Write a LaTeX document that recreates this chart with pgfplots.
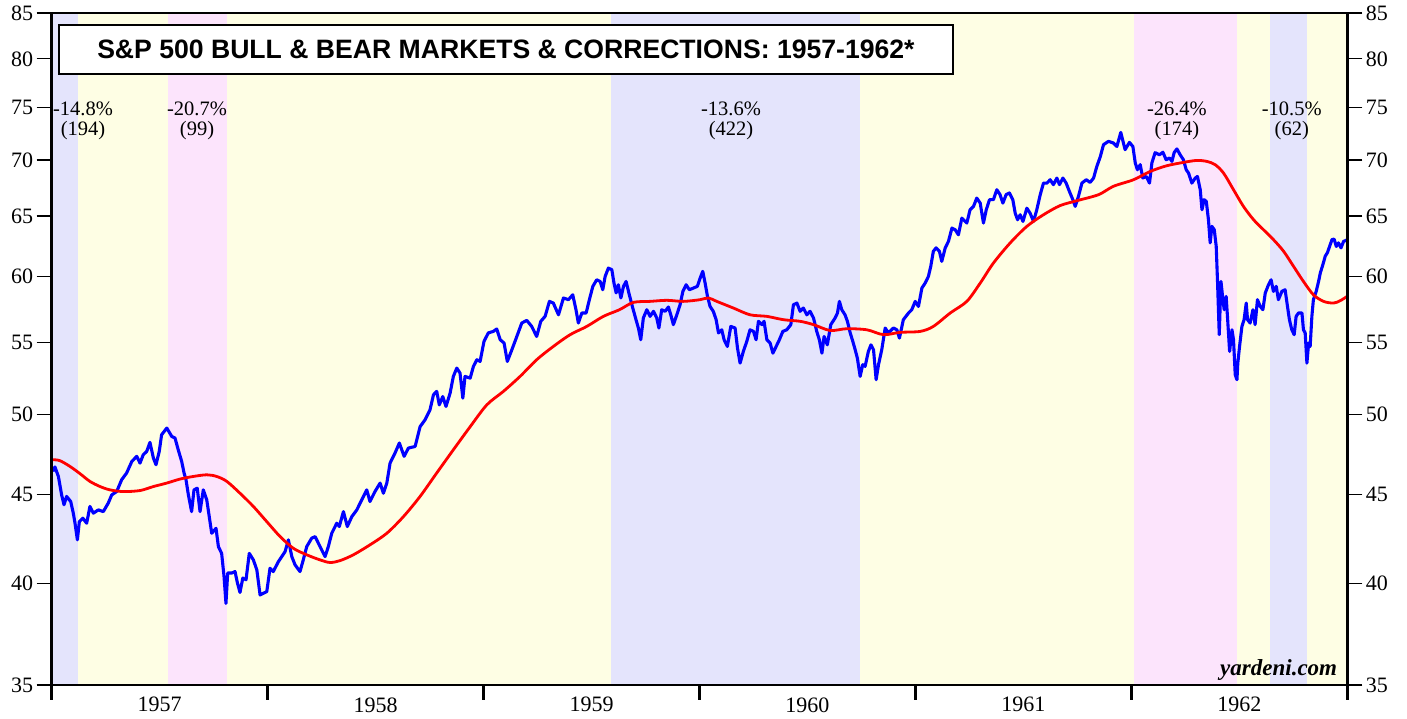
\documentclass[border=0pt]{standalone}
\usepackage{pgfplots}
\pgfplotsset{compat=1.18}
\usepackage{fontspec}
\setmainfont{Liberation Serif}
\newfontfamily\titlefont{Liberation Sans}
\definecolor{shblue}{RGB}{228,228,252}
\definecolor{shpink}{RGB}{252,228,252}
\definecolor{shyellow}{RGB}{254,254,228}
\begin{document}
\begin{tikzpicture}
\begin{axis}[
  at={(51.7pt,34pt)}, anchor=south west,
  width=1295.6pt, height=672pt, scale only axis,
  xmin=1957, xmax=1963, ymode=log, ymin=35, ymax=85,
  ytick={35,40,45,50,55,60,65,70,75,80,85},
  yticklabels={35,40,45,50,55,60,65,70,75,80,85},
  tick align=outside,
  major tick length=15pt,
  ticklabel style={font=\fontsize{22}{22}\selectfont},
  xticklabel style={yshift=6pt},
  y tick style={line width=1.3pt, black},
  axis line style={line width=2.8pt},
  axis on top,
  xtick={1957,1958,1959,1960,1961,1962,1963},
  x tick label as interval,
  xticklabels={1957,1958,1959,1960,1961,1962},
  x tick style={line width=2.8pt, black},
  xtick pos=bottom, ytick pos=left, yticklabel pos=left,
  minor tick num=0,
]
% shaded periods
\addplot[fill=shblue, draw=none] coordinates {(1957.000,35) (1957.000,85) (1957.122,85) (1957.122,35)} -- cycle;
\addplot[fill=shyellow, draw=none] coordinates {(1957.122,35) (1957.122,85) (1957.539,85) (1957.539,35)} -- cycle;
\addplot[fill=shpink, draw=none] coordinates {(1957.539,35) (1957.539,85) (1957.812,85) (1957.812,35)} -- cycle;
\addplot[fill=shyellow, draw=none] coordinates {(1957.812,35) (1957.812,85) (1959.591,85) (1959.591,35)} -- cycle;
\addplot[fill=shblue, draw=none] coordinates {(1959.591,35) (1959.591,85) (1960.744,85) (1960.744,35)} -- cycle;
\addplot[fill=shyellow, draw=none] coordinates {(1960.744,35) (1960.744,85) (1962.013,85) (1962.013,35)} -- cycle;
\addplot[fill=shpink, draw=none] coordinates {(1962.013,35) (1962.013,85) (1962.491,85) (1962.491,35)} -- cycle;
\addplot[fill=shyellow, draw=none] coordinates {(1962.491,35) (1962.491,85) (1962.643,85) (1962.643,35)} -- cycle;
\addplot[fill=shblue, draw=none] coordinates {(1962.643,35) (1962.643,85) (1962.814,85) (1962.814,35)} -- cycle;
\addplot[fill=shyellow, draw=none] coordinates {(1962.814,35) (1962.814,85) (1963.000,85) (1963.000,35)} -- cycle;

% S&P 500 (blue)
\addplot[blue, line width=3.1pt, line join=round] table {
1957.005 46.40
1957.015 46.67
1957.031 46.09
1957.046 44.98
1957.057 44.40
1957.069 44.89
1957.088 44.59
1957.100 43.91
1957.108 43.33
1957.119 42.39
1957.128 43.42
1957.144 43.62
1957.162 43.33
1957.177 44.30
1957.193 43.91
1957.216 44.10
1957.239 44.00
1957.262 44.50
1957.278 44.98
1957.301 45.18
1957.324 45.89
1957.347 46.30
1957.371 47.01
1957.394 47.33
1957.409 46.91
1957.424 47.43
1957.440 47.64
1957.455 48.21
1957.471 47.22
1957.483 46.81
1957.498 47.64
1957.509 48.70
1957.533 49.13
1957.556 48.59
1957.571 48.49
1957.586 47.74
1957.602 47.01
1957.613 46.30
1957.622 45.89
1957.633 44.98
1957.648 44.00
1957.659 45.28
1957.674 45.38
1957.687 44.00
1957.702 45.28
1957.718 44.69
1957.725 44.10
1957.741 42.76
1957.761 43.04
1957.772 42.01
1957.787 41.64
1957.798 40.40
1957.807 38.98
1957.815 40.57
1957.834 40.57
1957.849 40.65
1957.860 40.05
1957.872 39.55
1957.885 40.30
1957.900 40.21
1957.915 41.64
1957.934 41.28
1957.950 40.74
1957.965 39.42
1957.996 39.59
1958.011 40.83
1958.026 40.65
1958.050 41.19
1958.081 41.74
1958.096 42.39
1958.112 41.46
1958.127 41.01
1958.150 40.65
1958.165 41.28
1958.181 42.01
1958.204 42.48
1958.220 42.57
1958.235 42.20
1958.266 41.46
1958.281 42.01
1958.297 42.76
1958.320 43.33
1958.332 43.14
1958.351 44.00
1958.369 43.14
1958.390 43.71
1958.413 44.10
1958.436 44.69
1958.459 45.28
1958.474 44.59
1958.497 45.18
1958.521 45.69
1958.536 45.08
1958.552 45.69
1958.567 46.91
1958.590 47.54
1958.610 48.17
1958.632 47.33
1958.652 47.85
1958.683 47.95
1958.706 49.22
1958.729 49.67
1958.752 50.33
1958.768 51.34
1958.783 51.57
1958.795 50.66
1958.811 51.22
1958.826 50.55
1958.845 51.45
1958.860 52.60
1958.876 53.18
1958.891 52.83
1958.904 51.11
1958.914 52.60
1958.938 52.48
1958.953 53.30
1958.969 53.77
1958.984 53.65
1959.002 55.09
1959.022 55.71
1959.045 55.82
1959.061 56.00
1959.077 55.21
1959.095 54.97
1959.110 53.65
1959.131 54.48
1959.154 55.45
1959.177 56.44
1959.200 56.64
1959.223 56.19
1959.246 55.45
1959.265 56.57
1959.285 56.94
1959.305 58.08
1959.323 57.95
1959.347 57.06
1959.370 58.34
1959.393 58.21
1959.413 58.59
1959.428 57.44
1959.439 56.44
1959.455 57.19
1959.475 57.19
1959.490 58.21
1959.506 59.24
1959.524 59.76
1959.540 59.63
1959.552 58.98
1959.563 60.02
1959.578 60.69
1959.594 60.56
1959.604 59.50
1959.614 58.73
1959.624 59.37
1959.636 58.34
1959.648 59.24
1959.660 59.63
1959.675 58.59
1959.691 57.57
1959.706 56.69
1959.717 56.07
1959.728 55.21
1959.740 56.82
1959.756 57.44
1959.771 56.94
1959.787 57.32
1959.802 56.82
1959.812 56.07
1959.825 57.44
1959.841 57.32
1959.856 57.65
1959.867 57.06
1959.879 56.32
1959.895 57.06
1959.910 57.82
1959.923 58.85
1959.938 59.37
1959.953 58.98
1959.972 59.11
1959.990 59.24
1960.003 59.89
1960.015 60.43
1960.026 59.50
1960.037 58.46
1960.049 57.69
1960.064 57.32
1960.077 56.69
1960.088 55.71
1960.103 55.94
1960.114 55.21
1960.129 54.72
1960.145 56.19
1960.165 56.07
1960.176 54.60
1960.188 53.53
1960.203 54.36
1960.219 55.09
1960.234 55.94
1960.250 55.82
1960.262 55.21
1960.273 56.57
1960.289 56.32
1960.299 56.57
1960.312 55.21
1960.327 54.97
1960.340 54.24
1960.355 54.72
1960.370 55.21
1960.386 55.82
1960.404 55.94
1960.423 56.32
1960.435 57.82
1960.451 57.95
1960.466 57.32
1960.481 57.57
1960.497 57.06
1960.512 57.32
1960.528 56.82
1960.543 55.82
1960.555 55.21
1960.567 54.24
1960.577 55.45
1960.592 54.84
1960.608 56.32
1960.628 56.82
1960.639 57.19
1960.648 58.08
1960.659 57.44
1960.674 57.06
1960.685 56.57
1960.698 55.71
1960.710 55.09
1960.721 54.48
1960.731 53.89
1960.744 52.60
1960.756 53.42
1960.767 53.30
1960.782 54.36
1960.794 54.84
1960.806 54.48
1960.818 52.37
1960.829 53.42
1960.844 54.48
1960.860 56.07
1960.875 55.71
1960.898 56.07
1960.914 55.94
1960.926 55.33
1960.944 56.69
1960.968 57.19
1960.983 57.44
1960.999 58.08
1961.014 57.69
1961.030 59.11
1961.045 59.50
1961.060 60.02
1961.071 60.83
1961.083 62.05
1961.096 62.33
1961.111 62.05
1961.122 61.23
1961.138 62.33
1961.153 62.87
1961.169 63.98
1961.184 63.84
1961.199 63.42
1961.215 64.83
1961.238 64.41
1961.253 65.55
1961.269 65.84
1961.284 66.57
1961.300 66.13
1961.315 64.41
1961.328 65.55
1961.343 66.43
1961.361 66.43
1961.377 67.31
1961.392 66.87
1961.405 66.13
1961.420 66.87
1961.435 67.02
1961.451 66.43
1961.462 65.26
1961.473 64.69
1961.485 65.12
1961.498 64.55
1961.516 65.69
1961.531 65.26
1961.547 64.55
1961.562 65.55
1961.578 66.87
1961.593 67.90
1961.609 67.90
1961.624 68.20
1961.639 67.76
1961.655 68.35
1961.667 67.76
1961.683 68.35
1961.698 67.90
1961.713 67.16
1961.729 66.43
1961.740 65.84
1961.755 66.72
1961.771 67.90
1961.791 68.20
1961.809 67.96
1961.825 68.35
1961.840 69.41
1961.856 70.30
1961.871 71.43
1961.894 71.75
1961.917 71.59
1961.933 71.27
1961.951 72.60
1961.971 70.96
1961.991 71.65
1962.007 71.27
1962.018 69.73
1962.028 69.11
1962.041 69.57
1962.053 68.35
1962.069 68.50
1962.084 67.90
1962.095 69.73
1962.110 70.68
1962.130 70.49
1962.146 70.72
1962.161 70.03
1962.177 70.18
1962.188 69.87
1962.198 70.68
1962.211 71.03
1962.226 70.49
1962.241 70.03
1962.254 69.11
1962.265 68.80
1962.280 67.90
1962.296 68.35
1962.306 68.50
1962.319 67.31
1962.327 65.55
1962.337 66.43
1962.347 66.28
1962.357 64.69
1962.365 62.74
1962.373 64.13
1962.384 63.84
1962.393 62.45
1962.399 59.63
1962.407 55.58
1962.415 59.63
1962.424 58.21
1962.430 57.44
1962.439 58.46
1962.445 56.94
1962.455 54.36
1962.466 55.94
1962.473 55.21
1962.481 52.72
1962.489 52.37
1962.493 53.53
1962.501 54.72
1962.512 56.19
1962.522 56.69
1962.532 57.95
1962.538 56.69
1962.550 56.44
1962.563 57.44
1962.573 56.32
1962.584 58.21
1962.597 57.69
1962.609 57.44
1962.620 58.72
1962.635 59.37
1962.647 59.76
1962.658 58.85
1962.671 59.24
1962.681 58.21
1962.697 58.85
1962.712 58.98
1962.723 57.69
1962.732 56.69
1962.743 55.94
1962.754 55.58
1962.763 56.94
1962.774 57.19
1962.790 57.19
1962.797 55.94
1962.805 55.71
1962.813 53.53
1962.821 54.97
1962.828 54.72
1962.836 56.94
1962.843 58.21
1962.856 58.85
1962.867 59.63
1962.875 60.30
1962.887 60.97
1962.898 61.66
1962.908 61.94
1962.918 62.45
1962.929 63.01
1962.939 63.06
1962.949 62.45
1962.959 62.74
1962.971 62.33
1962.983 62.87
1962.995 62.95
1962.999 63.01
};

% 200-day moving average (red)
\addplot[red, line width=2.8pt, smooth] table {
1957.005 47.12
1957.038 47.06
1957.085 46.70
1957.131 46.26
1957.177 45.79
1957.224 45.48
1957.270 45.28
1957.332 45.18
1957.409 45.24
1957.471 45.48
1957.533 45.69
1957.594 45.93
1957.656 46.09
1957.718 46.19
1957.764 46.09
1957.811 45.79
1957.872 45.08
1957.934 44.30
1957.996 43.42
1958.058 42.57
1958.119 41.92
1958.181 41.56
1958.243 41.28
1958.289 41.14
1958.335 41.24
1958.397 41.56
1958.474 42.11
1958.552 42.76
1958.629 43.71
1958.706 44.89
1958.783 46.30
1958.860 47.74
1958.938 49.22
1959.015 50.66
1959.092 51.57
1959.169 52.60
1959.246 53.77
1959.323 54.72
1959.401 55.58
1959.478 56.19
1959.555 56.94
1959.629 57.44
1959.694 58.00
1959.771 58.08
1959.849 58.16
1959.925 58.08
1960.003 58.21
1960.041 58.34
1960.080 58.08
1960.157 57.57
1960.234 57.06
1960.312 56.94
1960.389 56.69
1960.466 56.57
1960.528 56.32
1960.605 55.89
1960.682 56.02
1960.775 55.94
1960.852 55.58
1960.929 55.75
1961.022 55.82
1961.083 56.19
1961.161 57.19
1961.238 58.08
1961.300 59.50
1961.361 61.09
1961.439 62.74
1961.516 64.13
1961.593 65.12
1961.670 65.91
1961.748 66.34
1961.848 66.87
1961.917 67.61
1962.010 68.20
1962.087 68.95
1962.164 69.47
1962.241 69.78
1962.303 69.96
1962.350 69.87
1962.388 69.57
1962.427 68.80
1962.473 67.31
1962.519 65.84
1962.566 64.69
1962.612 63.84
1962.658 63.01
1962.705 62.05
1962.751 60.83
1962.797 59.63
1962.843 58.59
1962.890 58.08
1962.936 57.95
1962.967 58.13
1962.999 58.46
};

% annotations
\node[align=center, font=\fontsize{20.5}{20}\selectfont] at (axis cs:1957.145,73.7) {-14.8\%\\(194)};
\node[align=center, font=\fontsize{20.5}{20}\selectfont] at (axis cs:1957.673,73.7) {-20.7\%\\(99)};
\node[align=center, font=\fontsize{20.5}{20}\selectfont] at (axis cs:1960.146,73.7) {-13.6\%\\(422)};
\node[align=center, font=\fontsize{20.5}{20}\selectfont] at (axis cs:1962.211,73.7) {-26.4\%\\(174)};
\node[align=center, font=\fontsize{20.5}{20}\selectfont] at (axis cs:1962.743,73.7) {-10.5\%\\(62)};

% title box
\node[draw=black, line width=1.8pt, fill=white, anchor=north west,
      minimum width=894pt, minimum height=49pt, inner sep=0pt,
      font=\titlefont\bfseries\fontsize{26.6}{26.6}\selectfont]
  at (rel axis cs:0.0049,0.9836) {S\&P 500 BULL \& BEAR MARKETS \& CORRECTIONS: 1957-1962*};

% source
\node[anchor=base east, inner sep=0pt, font=\bfseries\itshape\fontsize{23}{23}\selectfont]
  at (rel axis cs:0.9923,0.0134) {yardeni.com};
\end{axis}

\begin{axis}[
  at={(51.7pt,34pt)}, anchor=south west,
  width=1295.6pt, height=672pt, scale only axis,
  xmin=1957, xmax=1963, ymode=log, ymin=35, ymax=85,
  ytick={35,40,45,50,55,60,65,70,75,80,85},
  yticklabels={35,40,45,50,55,60,65,70,75,80,85},
  tick align=outside,
  major tick length=15pt,
  ticklabel style={font=\fontsize{22}{22}\selectfont},
  y tick style={line width=1.3pt, black},
  axis line style={line width=2.8pt},
  axis x line=none, axis y line*=right,
  ytick pos=right, yticklabel pos=right,
  minor tick num=0,
]
\addplot[draw=none] coordinates {(1957,40) (1963,40)};
\end{axis}
\pgfresetboundingbox
\path[use as bounding box] (0,0) rectangle (1407pt,719pt);
\end{tikzpicture}
\end{document}
